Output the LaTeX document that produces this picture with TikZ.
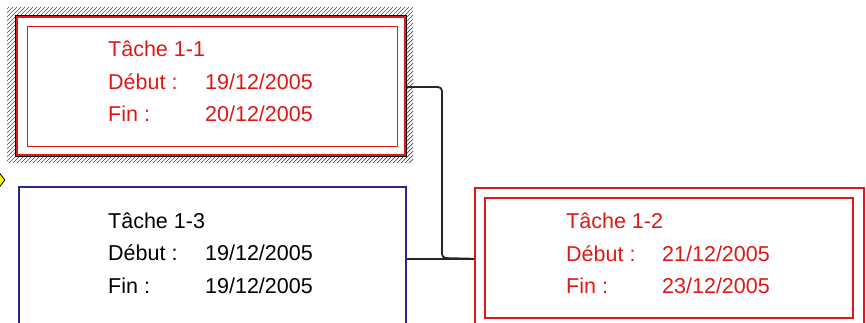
\documentclass[tikz,border=0pt]{standalone}
\usepackage{fontspec}
\usetikzlibrary{shapes.geometric}
\setmainfont{Liberation Sans}
\definecolor{tred}{RGB}{222,24,24}
\definecolor{tblue}{RGB}{40,40,140}
\definecolor{tyel}{RGB}{250,250,0}
\begin{document}
\begin{tikzpicture}[x=1pt,y=-1pt,
  txt/.style={anchor=base west,inner sep=0pt,font=\fontsize{21.5}{25}\selectfont},
  redtxt/.style={txt,text=tred},
  boxnode/.style={anchor=north west,inner sep=0pt,minimum width=#1},
  conn/.style={draw=black!85,line width=1.8pt,rounded corners=4pt}]
\useasboundingbox (0,0) rectangle (866,323);
\clip (0,0) rectangle (866,323);
% hatched frame of Tache 1-1
\begin{scope}[even odd rule]
  \clip (7,7) rectangle (413,163) (15,15) rectangle (405,155);
  \foreach \i in {0,4,...,600} \draw[black!70,line width=0.7pt] (\i-170,170) -- (\i,0);
\end{scope}
% Tache 1-1
\node[boxnode=390pt,minimum height=140pt,draw=black,line width=2pt] (t11) at (15,15) {};
\draw[tred,line width=2pt] ([shift={(2,2)}]t11.north west) rectangle ([shift={(-2,-2)}]t11.south east);
\node[boxnode=370pt,minimum height=120pt,draw=tred,line width=1.3pt] (t11i) at (27,26) {};
\node[redtxt] (a1) at (108,57) {Tâche 1-1};
\node[redtxt] (a2) at (108,90) {Début :};
\node[redtxt] (a3) at (205,90) {19/12/2005};
\node[redtxt] (a4) at (108,122) {Fin :};
\node[redtxt] (a5) at (205,122) {20/12/2005};
% Tache 1-3
\node[boxnode=387pt,minimum height=144pt,draw=tblue,line width=1.5pt] (t13) at (18,186) {};
\node[txt] (b1) at (108,228) {Tâche 1-3};
\node[txt] (b2) at (108,260) {Début :};
\node[txt] (b3) at (205,260) {19/12/2005};
\node[txt] (b4) at (108,293) {Fin :};
\node[txt] (b5) at (205,293) {19/12/2005};
% Tache 1-2
\node[boxnode=389pt,minimum height=142pt,draw=tred,line width=1.5pt] (t12) at (474,187) {};
\node[boxnode=368pt,minimum height=120pt,draw=tred,line width=1.5pt] (t12i) at (484,197) {};
\node[redtxt] (c1) at (566,228) {Tâche 1-2};
\node[redtxt] (c2) at (566,261) {Début :};
\node[redtxt] (c3) at (662,261) {21/12/2005};
\node[redtxt] (c4) at (566,293) {Fin :};
\node[redtxt] (c5) at (662,293) {23/12/2005};
% connectors
\coordinate (j1) at (442,87);
\coordinate (j2) at (442,258);
\draw[conn] (t11.east |- j1) -- (j1) -- (j2) -- (t12.west);
\draw[conn,rounded corners=0pt] (t13.east) -- (t12.west);
% yellow marker
\node[draw=black,fill=tyel,shape=diamond,line width=0.8pt,minimum width=14pt,minimum height=18pt,inner sep=0pt] (mk) at (-2,180) {};
\end{tikzpicture}
\end{document}
